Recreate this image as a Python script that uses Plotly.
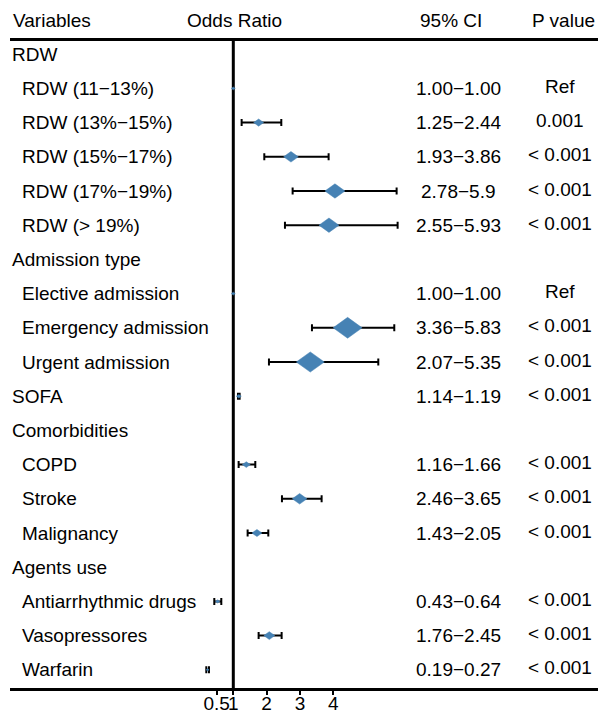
import plotly.graph_objects as go

# ---------------- data ----------------
labels = ["RDW", "RDW (11\u221213%)", "RDW (13%\u221215%)", "RDW (15%\u221217%)",
          "RDW (17%\u221219%)", "RDW (> 19%)", "Admission type", "Elective admission",
          "Emergency admission", "Urgent admission", "SOFA", "Comorbidities",
          "COPD", "Stroke", "Malignancy", "Agents use", "Antiarrhythmic drugs",
          "Vasopressores", "Warfarin"]
is_group = [True, False, False, False, False, False, True, False, False, False,
            True, True, False, False, False, True, False, False, False]
odds = [None, 1.00, 1.76, 2.73, 4.05, 3.87, None, 1.00, 4.43, 3.31, 1.165,
        None, 1.39, 2.99, 1.71, None, 0.53, 2.08, 0.23]
ci_low = [None, 1.00, 1.25, 1.93, 2.78, 2.55, None, 1.00, 3.36, 2.07, 1.14,
          None, 1.16, 2.46, 1.43, None, 0.43, 1.76, 0.19]
ci_high = [None, 1.00, 2.44, 3.86, 5.9, 5.93, None, 1.00, 5.83, 5.35, 1.19,
           None, 1.66, 3.65, 2.05, None, 0.64, 2.45, 0.27]
ci_text = ["", "1.00\u22121.00", "1.25\u22122.44", "1.93\u22123.86", "2.78\u22125.9",
           "2.55\u22125.93", "", "1.00\u22121.00", "3.36\u22125.83", "2.07\u22125.35",
           "1.14\u22121.19", "", "1.16\u22121.66", "2.46\u22123.65", "1.43\u22122.05",
           "", "0.43\u22120.64", "1.76\u22122.45", "0.19\u22120.27"]
p_text = ["", "Ref", "0.001", "< 0.001", "< 0.001", "< 0.001", "", "Ref",
          "< 0.001", "< 0.001", "< 0.001", "", "< 0.001", "< 0.001", "< 0.001",
          "", "< 0.001", "< 0.001", "< 0.001"]
box_size = [0, 4, 10, 14.7, 20, 20, 0, 4, 29, 28, 5, 0, 8, 14.7, 10, 0, 4.5, 11, 3]
headers = ["Variables", "Odds Ratio", "95% CI", "P value"]
tick_vals = [0.5, 1, 2, 3, 4]
tick_text = ["0.5", "1", "2", "3", "4"]

# ---------------- geometry ----------------
W, H = 598, 714
FONT = "Liberation Sans, Arial, sans-serif"
FS = 19
BLUE = "#4682B4"
px_unit = 33.33
one_px = 233.3
dom_left = 10
x0 = 1 - (one_px - dom_left) / px_unit
x1 = x0 + (W - dom_left) / px_unit
row_h = 34.2
row0 = 20
plot_h = 688
ytop = -row0 / row_h
ybot = (plot_h - row0) / row_h
top_line_row = (39.5 - row0) / row_h

rows = list(range(1, len(labels) + 1))

fig = go.Figure()

# error bars (whiskers)
ex, ey, ep, em = [], [], [], []
for r, e, lo, hi in zip(rows, odds, ci_low, ci_high):
    if e is None or hi == lo:
        continue
    ex.append(e); ey.append(r); ep.append(hi - e); em.append(e - lo)
fig.add_trace(go.Scatter(
    x=ex, y=ey, mode="markers", marker=dict(size=1, opacity=0),
    error_x=dict(type="data", array=ep, arrayminus=em, symmetric=False,
                 color="black", thickness=2, width=3.5),
    hoverinfo="skip", showlegend=False))

# diamonds
dx_all, dy_all = [], []
for r, e, s in zip(rows, odds, box_size):
    if e is None or s == 0:
        continue
    hw = s / 2 / px_unit
    hh = s * 0.72 / 2 / row_h
    dx_all += [e - hw, e, e + hw, e, e - hw, None]
    dy_all += [r, r - hh, r, r + hh, r, None]
fig.add_trace(go.Scatter(
    x=dx_all, y=dy_all, mode="lines", fill="toself", fillcolor=BLUE,
    line=dict(color=BLUE, width=0.5), hoverinfo="skip", showlegend=False))

ann = []
def txt(s, xpx, row, anchor, yshift=0):
    ann.append(dict(text=s, x=xpx / W, xref="paper", y=row, yref="y",
                    xanchor=anchor, yanchor="middle", showarrow=False,
                    yshift=yshift, font=dict(family=FONT, size=FS, color="black")))

# headers
txt(headers[0], 11, 0, "left")
txt(headers[1], 234.5, 0, "center")
txt(headers[2], 451, 0, "center")
txt(headers[3], 563.5, 0, "center")

for r, lab, g, c, p in zip(rows, labels, is_group, ci_text, p_text):
    txt(lab, 10 if g else 20, r, "left")
    if c:
        txt(c, 458, r, "center")
    if p:
        txt(p, 560, r, "center", yshift=2)

shapes = [
    dict(type="line", xref="paper", yref="y", x0=dom_left / W, x1=1,
         y0=top_line_row, y1=top_line_row, line=dict(color="black", width=3)),
    dict(type="line", xref="x", yref="y", x0=1, x1=1, y0=top_line_row, y1=ybot,
         line=dict(color="black", width=3), layer="below"),
]

fig.update_layout(
    width=W, height=H, margin=dict(l=0, r=0, t=0, b=H - plot_h, autoexpand=False),
    paper_bgcolor="white", plot_bgcolor="white",
    annotations=ann, shapes=shapes, showlegend=False,
    font=dict(family=FONT, size=FS, color="black"),
    xaxis=dict(domain=[dom_left / W, 1], range=[x0, x1], showgrid=False,
               zeroline=False, showline=True, linecolor="black", linewidth=3,
               ticks="outside", ticklen=4, tickwidth=2, tickcolor="black",
               tickvals=tick_vals, ticktext=tick_text, tickangle=0, automargin=False,
               ticklabelstandoff=-8,
               tickfont=dict(family=FONT, size=FS, color="black"), fixedrange=True),
    yaxis=dict(range=[ybot, ytop], visible=False, showgrid=False, automargin=False,
               zeroline=False, fixedrange=True),
)

fig.write_html("out.html", config={"displayModeBar": False},
               post_script="document.body.style.margin='0';document.body.style.overflow='hidden';")
